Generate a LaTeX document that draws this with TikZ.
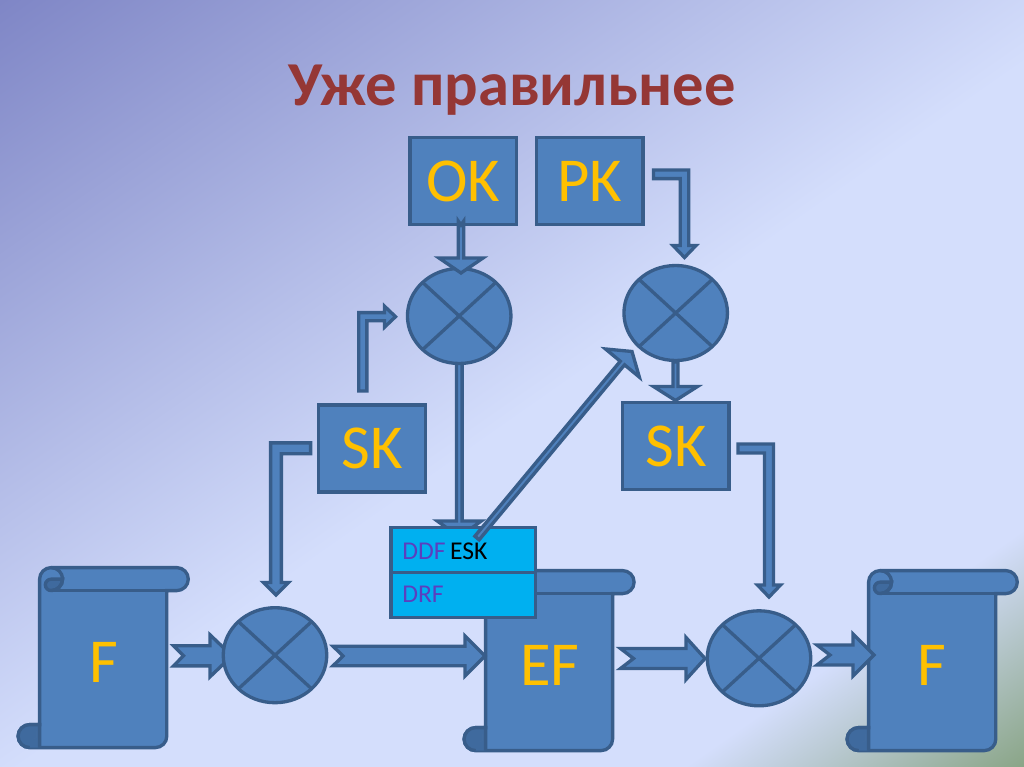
\documentclass[tikz,border=0pt]{standalone}
\usepackage{fontspec}
\setmainfont{Carlito}
\usetikzlibrary{calc,shapes.geometric}
\definecolor{bgA}{HTML}{7F86C6}
\definecolor{bgB}{HTML}{D4DEFC}
\definecolor{bgC}{HTML}{8AA587}
\definecolor{fillblue}{HTML}{4F81BD}
\definecolor{edgeblue}{HTML}{385D8A}
\definecolor{curlblue}{HTML}{3F6A9E}
\definecolor{goldtext}{HTML}{FFC000}
\definecolor{titlered}{HTML}{953735}
\definecolor{tablecyan}{HTML}{00B0F0}
\definecolor{ddfviolet}{HTML}{5B3FBF}
\pgfdeclarehorizontalshading{slidebg}{100bp}{color(0bp)=(bgA); color(25bp)=(bgA); color(51.3bp)=(bgB); color(67bp)=(bgB); color(75bp)=(bgC); color(100bp)=(bgC)}
\tikzset{
  shapeline/.style={draw=edgeblue,line width=2.5pt,fill=fillblue,line join=miter},
  plainline/.style={draw=edgeblue,line width=2.5pt},
  keybox/.style={shapeline,rectangle,inner sep=0pt,outer sep=0pt,text=goldtext,font=\fontsize{46.9pt}{50pt}\selectfont,text depth=0pt,minimum width=106.5pt*0.75,minimum height=87pt*0.75},
  mixer/.style={shapeline,ellipse,inner sep=0pt,outer sep=0pt,minimum width=103.5pt*0.75,minimum height=95pt*0.75},
  bigtext/.style={text=goldtext,font=\fontsize{46.9pt}{50pt}\selectfont,anchor=base,inner sep=0pt},
  tablerow/.style={plainline,fill=tablecyan,rectangle,inner sep=0pt,outer sep=0pt,minimum width=144.5pt*0.75,minimum height=45pt*0.75,text width=122pt*0.75,font=\fontsize{19.2pt}{21pt}\selectfont,text depth=0pt,align=left}
}
% block arrow: tail, tip, half shaft, half head, head length, tail notch (px)
\newcommand\blockarrow[6]{%
  \coordinate (bs) at ($(#2)!#5*0.75pt!(#1)$);
  \draw[shapeline] ($(#1)!#3*0.75pt!90:(#2)$) -- ($(bs)!#3*0.75pt!90:(#2)$) -- ($(bs)!#4*0.75pt!90:(#2)$) -- (#2)
    -- ($(bs)!#4*0.75pt!-90:(#2)$) -- ($(bs)!#3*0.75pt!-90:(#2)$) -- ($(#1)!#3*0.75pt!-90:(#2)$) -- ($(#1)!#6*0.75pt!(#2)$) -- cycle;}
% bent arrow: tail, corner, tip, half shaft, half head, head length (px)
\newcommand\bentarrow[6]{%
  \coordinate (ct) at ($(#2)!#4*0.75pt!(#1)$);
  \coordinate (cp) at ($(#2)!#4*0.75pt!(#3)$);
  \coordinate (cH) at ($(#2)!#5*0.75pt!(#1)$);
  \coordinate (bs) at ($(#3)!#6*0.75pt!(#2)$);
  \draw[shapeline] ($(#1)+(cp)-(#2)$) -- ($(ct)+(cp)-(#2)$) -- ($(bs)+(ct)-(#2)$) -- ($(bs)+(cH)-(#2)$) -- (#3)
    -- ($(bs)-(cH)+(#2)$) -- ($(bs)-(ct)+(#2)$) -- ($(#2)+(#2)-(ct)-(cp)+(#2)$) -- ($(#1)-(cp)+(#2)$) -- cycle;}
% crossed circle
\newcommand\mixernode[3]{%
  \node[mixer] (#1) at (#2,#3) {};
  \draw[plainline] (#1.north west) -- (#1.south east) (#1.north east) -- (#1.south west);}
% scroll
\newcommand\scrollshape[3]{%
  \begin{scope}[shift={(#1,#2)}]
    \draw[shapeline] (0,11.5) arc (180:270:8.625pt) -- (#3+10,0) arc (270:450:8.625pt) -- (#3,23) -- (#3,168.5) arc (0:90:8.625pt)
      -- (-10,180) arc (90:270:8.625pt) -- (0,157) -- cycle;
    \draw[plainline] (11.5,23) -- (#3,23);
    \draw[plainline,fill=curlblue] (11.5,23) arc (90:270:4.3pt) -- (23,11.5) arc (0:90:8.625pt);
    \draw[plainline] (11.5,0) arc (270:450:8.625pt);
    \fill[curlblue] (-10,180) arc (90:270:8.625pt) -- (0,157) -- (0,180) -- cycle;
    \draw[plainline] (-10,180) arc (90:270:8.625pt) -- (0,157) -- (0,180);
    \draw[draw=edgeblue!60!fillblue,line width=0.8pt] (-3,163) -- (-3,170) -- (-8,172);
  \end{scope}}
\begin{document}
\begin{tikzpicture}[x=0.75pt,y=0.75pt,yscale=-1]
\useasboundingbox (0,0) rectangle (1024,767);
\begin{scope}
  \clip (0,0) rectangle (1024,767);
  \shade[shading=slidebg,shading angle=-55] (-95.5,-224) rectangle (1119.5,991);
\end{scope}
\node[text=titlered,font=\bfseries\fontsize{46.9pt}{50pt}\selectfont,anchor=base,inner sep=0pt] (title) at (512,105) {Уже правильнее};

% arrow ends
\coordinate (fOut) at (173.5,655.8);  \coordinate (m3In) at (232,655.8);
\coordinate (m3Out) at (333,656);     \coordinate (efIn) at (485,656);
\coordinate (efOut) at (620.5,658.5); \coordinate (m4In) at (705,658.5);
\coordinate (m4Out) at (817,655);     \coordinate (f2In) at (874,655);
\coordinate (okOut) at (461,221);     \coordinate (m1Top) at (461,273);
\coordinate (pkOut) at (653.5,174.3); \coordinate (pkBend) at (684.5,174.3); \coordinate (m2Top) at (684.5,257.5);
\coordinate (skOut) at (362.8,391);   \coordinate (skBend) at (362.8,316.7); \coordinate (m1Left) at (395.5,316.7);
\coordinate (m1Out) at (459.3,362);   \coordinate (tabTop) at (459.3,537);
\coordinate (tabOut) at (477,538);    \coordinate (m2In) at (632,351.5);
\coordinate (m2Out) at (675.5,362);   \coordinate (sk2Top) at (675.5,400.5);
\coordinate (skLeft) at (310.6,448.3);\coordinate (skLBend) at (276,448.3);  \coordinate (m3Top) at (276,595);
\coordinate (sk2Right) at (738,448.5);\coordinate (sk2Bend) at (769,448.5);  \coordinate (m4Top) at (769,597);

% scrolls
\scrollshape{39.6}{567.6}{127.2}
\scrollshape{485.6}{570.6}{127}
\scrollshape{868.6}{570.6}{127.2}
\node[bigtext] (fLeft) at (104,682.7) {F};
\node[bigtext] (ef) at (549.7,685) {EF};
\node[bigtext] (fRight) at (932,685) {F};

% arrows below the circles
\blockarrow{fOut}{m3In}{10.1}{21}{22}{10}
\blockarrow{efOut}{m4In}{10}{21}{19}{13}
\blockarrow{m1Out}{tabTop}{2.8}{22}{16}{0}
\blockarrow{m2Out}{sk2Top}{2.5}{22}{14}{0}

% circles
\mixernode{mixA}{459.2}{316}
\mixernode{mixB}{675.7}{313}
\mixernode{mixC}{275}{655.2}
\mixernode{mixD}{759}{658.3}

% boxes
\node[keybox] (ok) at (463.3,181) {OK};
\node[keybox] (pk) at (589.7,181.2) {PK};
\node[keybox] (skA) at (372,448.4) {SK};
\node[keybox] (skB) at (675.9,446.2) {SK};

% arrows above
\blockarrow{okOut}{m1Top}{2.8}{22}{15}{4}
\blockarrow{m3Out}{efIn}{9.8}{20}{20}{10}
\blockarrow{m4Out}{f2In}{10}{21}{21}{13}
\bentarrow{pkOut}{pkBend}{m2Top}{4.3}{11.5}{12}
\bentarrow{skOut}{skBend}{m1Left}{4.1}{10.5}{11}
\bentarrow{skLeft}{skLBend}{m3Top}{5.4}{12.5}{12.5}
\bentarrow{sk2Right}{sk2Bend}{m4Top}{4.5}{11.5}{12}

% table
\node[tablerow] (ddf) at (463.3,549.8) {\raisebox{-1.4pt}{\textcolor{ddfviolet}{DDF}\hspace{-3pt} ESK}};
\node[tablerow] (drf) at (463.3,594.8) {\raisebox{0.4pt}{\textcolor{ddfviolet}{DRF}}};

\blockarrow{tabOut}{m2In}{2.8}{22}{15}{0}
\end{tikzpicture}
\end{document}
